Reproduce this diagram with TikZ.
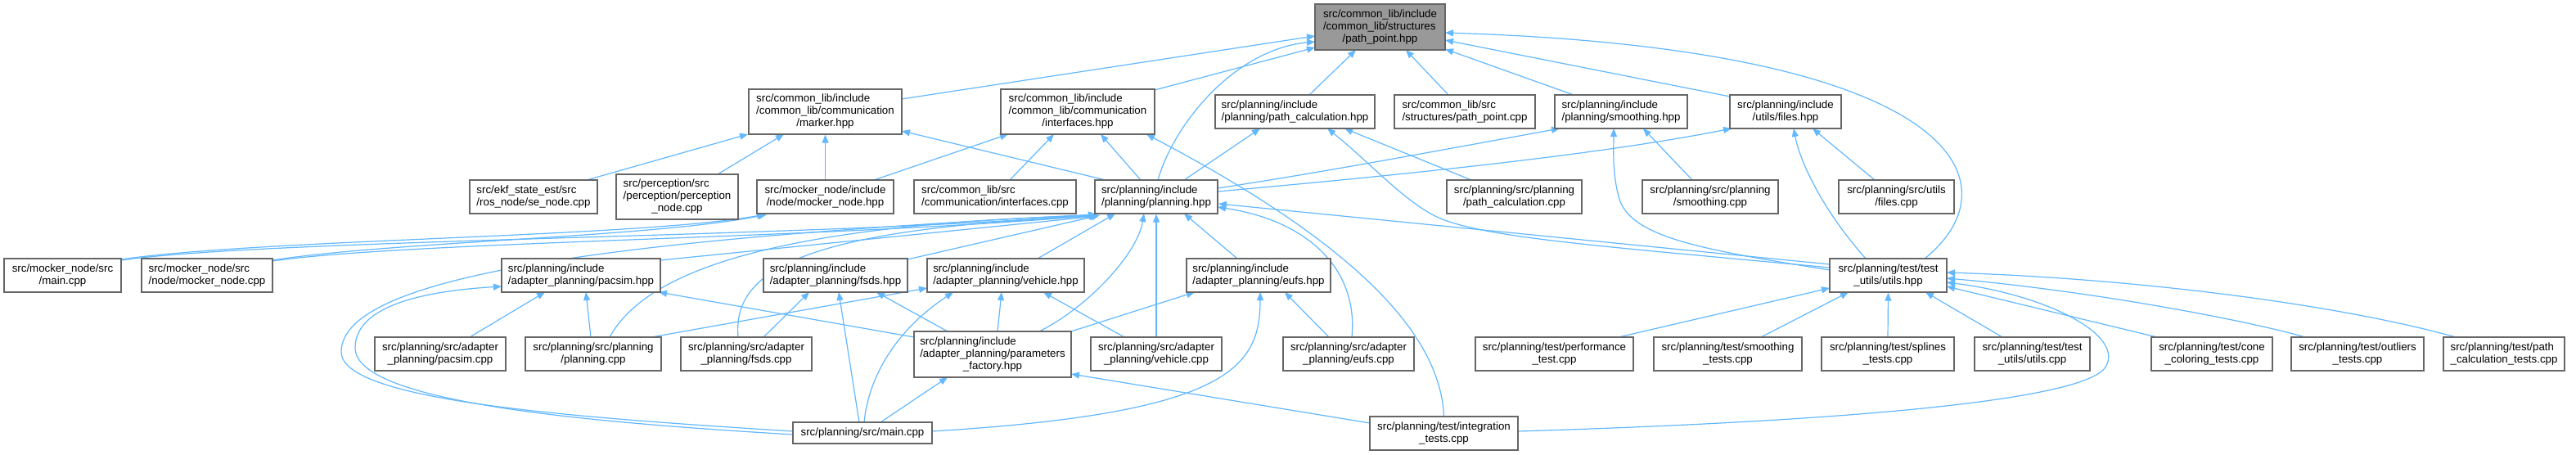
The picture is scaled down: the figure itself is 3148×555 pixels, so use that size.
\documentclass[tikz,border=0pt]{standalone}
\usepackage{fontspec}
\setmainfont{Liberation Sans}
\usetikzlibrary{arrows.meta}
\definecolor{edgeblue}{HTML}{63B8FF}
\definecolor{boxgray}{HTML}{666666}
\definecolor{rootfill}{HTML}{999999}
\newcommand{\lone}[1]{#1}
\newcommand{\ltwo}[2]{\begin{tabular}{@{}l@{}}#1\\\multicolumn{1}{@{}c@{}}{#2}\end{tabular}}
\newcommand{\lthree}[3]{\begin{tabular}{@{}l@{}}#1\\#2\\\multicolumn{1}{@{}c@{}}{#3}\end{tabular}}
\pgfdeclarelayer{background}
\pgfsetlayers{background,main}
\begin{document}
\begin{tikzpicture}[x=1pt,y=-1pt,
  filebox/.style={draw=boxgray, line width=1.3pt, fill=white, inner sep=0pt, text=black,
    font=\fontsize{13.3}{15}\selectfont},
  inc/.style={draw=edgeblue, line width=1.2pt, -{Triangle[length=10pt,width=8pt]}}]
\useasboundingbox (0,0) rectangle (3148,555);
% row 1
\node[filebox, fill=rootfill, minimum width=159pt, minimum height=56pt] (root) at (1686.5,33) {\lthree{src/common\_lib/include}{/common\_lib/structures}{/path\_point.hpp}};
% row 2
\node[filebox, minimum width=187pt, minimum height=55pt] (marker) at (1008.5,136.5) {\lthree{src/common\_lib/include}{/common\_lib/communication}{/marker.hpp}};
\node[filebox, minimum width=188pt, minimum height=55pt] (interfaces) at (1317,136.5) {\lthree{src/common\_lib/include}{/common\_lib/communication}{/interfaces.hpp}};
\node[filebox, minimum width=195pt, minimum height=41pt] (pathcalchpp) at (1582.5,136.5) {\ltwo{src/planning/include}{/planning/path\_calculation.hpp}};
\node[filebox, minimum width=172pt, minimum height=41pt] (pathpointcpp) at (1790,136.5) {\ltwo{src/common\_lib/src}{/structures/path\_point.cpp}};
\node[filebox, minimum width=162pt, minimum height=41pt] (smoothinghpp) at (1981,136.5) {\ltwo{src/planning/include}{/planning/smoothing.hpp}};
\node[filebox, minimum width=136pt, minimum height=41pt] (fileshpp) at (2182,136.5) {\ltwo{src/planning/include}{/utils/files.hpp}};
% row 3
\node[filebox, minimum width=156pt, minimum height=41pt] (ekf) at (652,240.5) {\ltwo{src/ekf\_state\_est/src}{/ros\_node/se\_node.cpp}};
\node[filebox, minimum width=149pt, minimum height=55pt] (perception) at (827.5,240.5) {\lthree{src/perception/src}{/perception/perception}{\_node.cpp}};
\node[filebox, minimum width=167pt, minimum height=41pt] (mockerhpp) at (1008.5,240.5) {\ltwo{src/mocker\_node/include}{/node/mocker\_node.hpp}};
\node[filebox, minimum width=198pt, minimum height=41pt] (interfacescpp) at (1216,240.5) {\ltwo{src/common\_lib/src}{/communication/interfaces.cpp}};
\node[filebox, minimum width=150pt, minimum height=41pt] (planninghpp) at (1413,240.5) {\ltwo{src/planning/include}{/planning/planning.hpp}};
\node[filebox, minimum width=165pt, minimum height=41pt] (pathcalccpp) at (1850.5,240.5) {\ltwo{src/planning/src/planning}{/path\_calculation.cpp}};
\node[filebox, minimum width=166pt, minimum height=41pt] (smoothingcpp) at (2090,240.5) {\ltwo{src/planning/src/planning}{/smoothing.cpp}};
\node[filebox, minimum width=141pt, minimum height=41pt] (filescpp) at (2317.5,240.5) {\ltwo{src/planning/src/utils}{/files.cpp}};
% row 4
\node[filebox, minimum width=143pt, minimum height=41pt] (mockermain) at (76.5,336.5) {\ltwo{src/mocker\_node/src}{/main.cpp}};
\node[filebox, minimum width=160pt, minimum height=41pt] (mockercpp) at (253,336.5) {\ltwo{src/mocker\_node/src}{/node/mocker\_node.cpp}};
\node[filebox, minimum width=194pt, minimum height=41pt] (pacsimhpp) at (710,336.5) {\ltwo{src/planning/include}{/adapter\_planning/pacsim.hpp}};
\node[filebox, minimum width=176pt, minimum height=41pt] (fsdshpp) at (1021,336.5) {\ltwo{src/planning/include}{/adapter\_planning/fsds.hpp}};
\node[filebox, minimum width=192pt, minimum height=41pt] (vehiclehpp) at (1229,336.5) {\ltwo{src/planning/include}{/adapter\_planning/vehicle.hpp}};
\node[filebox, minimum width=176pt, minimum height=41pt] (eufshpp) at (1538,336.5) {\ltwo{src/planning/include}{/adapter\_planning/eufs.hpp}};
\node[filebox, minimum width=143pt, minimum height=41pt] (utilshpp) at (2307.5,336.5) {\ltwo{src/planning/test/test}{\_utils/utils.hpp}};
% row 5
\node[filebox, minimum width=160pt, minimum height=41pt] (pacsimcpp) at (538,432.5) {\ltwo{src/planning/src/adapter}{\_planning/pacsim.cpp}};
\node[filebox, minimum width=166pt, minimum height=41pt] (planningcpp) at (725,432.5) {\ltwo{src/planning/src/planning}{/planning.cpp}};
\node[filebox, minimum width=160pt, minimum height=41pt] (fsdscpp) at (912,432.5) {\ltwo{src/planning/src/adapter}{\_planning/fsds.cpp}};
\node[filebox, minimum width=192pt, minimum height=56pt] (factory) at (1213,433) {\lthree{src/planning/include}{/adapter\_planning/parameters}{\_factory.hpp}};
\node[filebox, minimum width=160pt, minimum height=41pt] (vehiclecpp) at (1413,432.5) {\ltwo{src/planning/src/adapter}{\_planning/vehicle.cpp}};
\node[filebox, minimum width=160pt, minimum height=41pt] (eufscpp) at (1648,432.5) {\ltwo{src/planning/src/adapter}{\_planning/eufs.cpp}};
\node[filebox, minimum width=193pt, minimum height=41pt] (perf) at (1899.5,432.5) {\ltwo{src/planning/test/performance}{\_test.cpp}};
\node[filebox, minimum width=181pt, minimum height=41pt] (smoothtests) at (2111.5,432.5) {\ltwo{src/planning/test/smoothing}{\_tests.cpp}};
\node[filebox, minimum width=162pt, minimum height=41pt] (splines) at (2307,432.5) {\ltwo{src/planning/test/splines}{\_tests.cpp}};
\node[filebox, minimum width=141pt, minimum height=41pt] (tucpp) at (2483.5,432.5) {\ltwo{src/planning/test/test}{\_utils/utils.cpp}};
\node[filebox, minimum width=148pt, minimum height=41pt] (cone) at (2703,432.5) {\ltwo{src/planning/test/cone}{\_coloring\_tests.cpp}};
\node[filebox, minimum width=162pt, minimum height=41pt] (outliers) at (2881,432.5) {\ltwo{src/planning/test/outliers}{\_tests.cpp}};
\node[filebox, minimum width=148pt, minimum height=41pt] (pct) at (3060,432.5) {\ltwo{src/planning/test/path}{\_calculation\_tests.cpp}};
% row 6
\node[filebox, minimum width=170pt, minimum height=26pt] (maincpp) at (1054,529) {\lone{src/planning/src/main.cpp}};
\node[filebox, minimum width=181pt, minimum height=41pt] (integration) at (1764.5,529.5) {\ltwo{src/planning/test/integration}{\_tests.cpp}};

\begin{pgfonlayer}{background}
\fill[white] (0,0) rectangle (3148,555);
% into root
\draw[inc] ([shift={(93.5,-15.5)}]marker.center) -- ([shift={(-79.5,11)}]root.center);
\draw[inc] ([shift={(94,-26.5)}]interfaces.center) -- ([shift={(-79.5,25)}]root.center);
\draw[inc] ([shift={(2,-20.5)}]planninghpp.center) .. controls (1435,150) and (1510,60) .. ([shift={(-79.5,18)}]root.center);
\draw[inc] ([shift={(17.5,-20.5)}]pathcalchpp.center) -- ([shift={(-29.5,28)}]root.center);
\draw[inc] ([shift={(-20,-20.5)}]pathpointcpp.center) -- ([shift={(31.5,28)}]root.center);
\draw[inc] ([shift={(-58,-20.5)}]smoothinghpp.center) -- ([shift={(79.5,27)}]root.center);
\draw[inc] ([shift={(-68,-18.5)}]fileshpp.center) -- ([shift={(79.5,16)}]root.center);
\draw[inc] ([shift={(44.5,-20.5)}]utilshpp.center) .. controls (2465,225) and (2400,60) .. ([shift={(79.5,7)}]root.center);
% into marker
\draw[inc] ([shift={(65,-20.5)}]ekf.center) -- ([shift={(-94.5,27.5)}]marker.center);
\draw[inc] ([shift={(49.5,-27.5)}]perception.center) -- ([shift={(-50.5,27.5)}]marker.center);
\draw[inc] (mockerhpp.north) -- (marker.south);
\draw[inc] ([shift={(-62,-20.5)}]planninghpp.center) -- ([shift={(93.5,23.5)}]marker.center);
% into interfaces
\draw[inc] ([shift={(59.5,-20.5)}]mockerhpp.center) -- ([shift={(-85,27.5)}]interfaces.center);
\draw[inc] ([shift={(18,-20.5)}]interfacescpp.center) -- ([shift={(-29,27.5)}]interfaces.center);
\draw[inc] ([shift={(-19,-20.5)}]planninghpp.center) -- ([shift={(28,27.5)}]interfaces.center);
\draw[inc] (integration.north) .. controls (1760,410) and (1660,300) .. ([shift={(84,27.5)}]interfaces.center);
% into mocker_node.hpp
\draw[inc] ([shift={(71.5,-19.5)}]mockermain.center) .. controls (320,292) and (780,290) .. ([shift={(-73.5,21.5)}]mockerhpp.center);
\draw[inc] ([shift={(80,-18.5)}]mockercpp.center) .. controls (480,295) and (800,290) .. ([shift={(-71.5,21.5)}]mockerhpp.center);
% into planning.hpp
\draw[inc] ([shift={(71.5,-18.5)}]mockermain.center) .. controls (330,292) and (1000,290) .. ([shift={(-73,21.5)}]planninghpp.center);
\draw[inc] ([shift={(80,-17.5)}]mockercpp.center) .. controls (500,295) and (1000,292) .. ([shift={(-72,22.5)}]planninghpp.center);
\draw[inc] ([shift={(97,-18.5)}]pacsimhpp.center) -- ([shift={(-71,23.5)}]planninghpp.center);
\draw[inc] ([shift={(88,-19.5)}]fsdshpp.center) -- ([shift={(-69,22.5)}]planninghpp.center);
\draw[inc] ([shift={(39,-20.5)}]vehiclehpp.center) -- ([shift={(-50,20.5)}]planninghpp.center);
\draw[inc] ([shift={(-26,-20.5)}]eufshpp.center) -- ([shift={(34,20.5)}]planninghpp.center);
\draw[inc] ([shift={(20,-20.5)}]planningcpp.center) .. controls (790,330) and (950,275) .. ([shift={(-73,22.5)}]planninghpp.center);
\draw[inc] ([shift={(-10,-20.5)}]fsdscpp.center) .. controls (895,330) and (980,280) .. ([shift={(-72,23.5)}]planninghpp.center);
\draw[inc] ([shift={(57,-28)}]factory.center) .. controls (1330,375) and (1390,310) .. ([shift={(-15,20.5)}]planninghpp.center);
\draw[inc] (vehiclecpp.north) -- (planninghpp.south);
\draw[inc] ([shift={(4,-20.5)}]eufscpp.center) .. controls (1660,330) and (1600,270) .. ([shift={(75,12.5)}]planninghpp.center);
\draw[inc] ([shift={(-85,-2)}]maincpp.center) .. controls (700,510) and (417,490) .. (417,430) .. controls (417,330) and (800,290) .. ([shift={(-73,21.5)}]planninghpp.center);
\draw[inc] ([shift={(-71.5,-13.5)}]utilshpp.center) -- ([shift={(76,8.5)}]planninghpp.center);
% into path_calculation.hpp
\draw[inc] ([shift={(34,-20.5)}]planninghpp.center) -- ([shift={(-42.5,20.5)}]pathcalchpp.center);
\draw[inc] ([shift={(-71.5,-9.5)}]utilshpp.center) .. controls (1950,300) and (1800,290) .. (1750,262) .. controls (1710,240) and (1670,195) .. ([shift={(39.5,20.5)}]pathcalchpp.center);
\draw[inc] ([shift={(-52.5,-20.5)}]pathcalccpp.center) -- ([shift={(60.5,20.5)}]pathcalchpp.center);
% into smoothing.hpp
\draw[inc] ([shift={(75,-10.5)}]planninghpp.center) .. controls (1620,210) and (1780,180) .. ([shift={(-75,20.5)}]smoothinghpp.center);
\draw[inc] ([shift={(-71.5,-6.5)}]utilshpp.center) .. controls (2080,305) and (1990,290) .. (1978,240) .. controls (1970,210) and (1972,180) .. ([shift={(-9,20.5)}]smoothinghpp.center);
\draw[inc] ([shift={(-22,-20.5)}]smoothingcpp.center) -- ([shift={(27,20.5)}]smoothinghpp.center);
% into files.hpp
\draw[inc] ([shift={(75,-6.5)}]planninghpp.center) .. controls (1700,215) and (1950,190) .. ([shift={(-66,20.5)}]fileshpp.center);
\draw[inc] ([shift={(-27.5,-20.5)}]utilshpp.center) .. controls (2230,260) and (2200,200) .. ([shift={(10,20.5)}]fileshpp.center);
\draw[inc] ([shift={(-26.5,-20.5)}]filescpp.center) -- ([shift={(33,20.5)}]fileshpp.center);
% into pacsim.hpp
\draw[inc] ([shift={(36,-20.5)}]pacsimcpp.center) -- ([shift={(-44,20.5)}]pacsimhpp.center);
\draw[inc] ([shift={(-3,-20.5)}]planningcpp.center) -- ([shift={(6,20.5)}]pacsimhpp.center);
\draw[inc] ([shift={(-96,-21)}]factory.center) -- ([shift={(95,20.5)}]pacsimhpp.center);
\draw[inc] ([shift={(-85,2)}]maincpp.center) .. controls (700,515) and (434,490) .. (434,425) .. controls (434,370) and (530,355) .. ([shift={(-97,13.5)}]pacsimhpp.center);
% into fsds.hpp
\draw[inc] ([shift={(21,-20.5)}]fsdscpp.center) -- ([shift={(-32,20.5)}]fsdshpp.center);
\draw[inc] ([shift={(-4,-13)}]maincpp.center) -- ([shift={(4,20.5)}]fsdshpp.center);
\draw[inc] ([shift={(-55,-28)}]factory.center) -- ([shift={(50,20.5)}]fsdshpp.center);
% into vehicle.hpp
\draw[inc] ([shift={(71,-20.5)}]planningcpp.center) -- ([shift={(-96,15.5)}]vehiclehpp.center);
\draw[inc] ([shift={(2,-13)}]maincpp.center) .. controls (1062,455) and (1100,400) .. ([shift={(-64,20.5)}]vehiclehpp.center);
\draw[inc] ([shift={(6,-28)}]factory.center) -- ([shift={(-5,20.5)}]vehiclehpp.center);
\draw[inc] ([shift={(-39,-20.5)}]vehiclecpp.center) -- ([shift={(46,20.5)}]vehiclehpp.center);
% into eufs.hpp
\draw[inc] ([shift={(96,-28)}]factory.center) -- ([shift={(-78,20.5)}]eufshpp.center);
\draw[inc] ([shift={(85,-2)}]maincpp.center) .. controls (1500,505) and (1540,450) .. ([shift={(2,20.5)}]eufshpp.center);
\draw[inc] ([shift={(-24,-20.5)}]eufscpp.center) -- ([shift={(32,20.5)}]eufshpp.center);
% into parameters_factory.hpp
\draw[inc] ([shift={(22,-13)}]maincpp.center) -- ([shift={(-55,28)}]factory.center);
\draw[inc] ([shift={(-90.5,-12.5)}]integration.center) -- ([shift={(96,24)}]factory.center);
% into test_utils/utils.hpp
\draw[inc] ([shift={(78.5,-20.5)}]perf.center) -- ([shift={(-71.5,15.5)}]utilshpp.center);
\draw[inc] ([shift={(40.5,-20.5)}]smoothtests.center) -- ([shift={(-48.5,20.5)}]utilshpp.center);
\draw[inc] (splines.north) -- (utilshpp.south);
\draw[inc] ([shift={(-36.5,-20.5)}]tucpp.center) -- ([shift={(45.5,20.5)}]utilshpp.center);
\draw[inc] ([shift={(-67,-20.5)}]cone.center) -- ([shift={(71.5,13.5)}]utilshpp.center);
\draw[inc] ([shift={(-64,-20.5)}]outliers.center) .. controls (2740,390) and (2550,355) .. ([shift={(71.5,3.5)}]utilshpp.center);
\draw[inc] ([shift={(-59,-20.5)}]pct.center) .. controls (2850,370) and (2600,340) .. ([shift={(71.5,-3.5)}]utilshpp.center);
\draw[inc] ([shift={(90.5,-2.5)}]integration.center) .. controls (2250,515) and (2540,490) .. (2572,450) .. controls (2600,410) and (2500,360) .. ([shift={(71.5,8.5)}]utilshpp.center);
\end{pgfonlayer}
\end{tikzpicture}
\end{document}
